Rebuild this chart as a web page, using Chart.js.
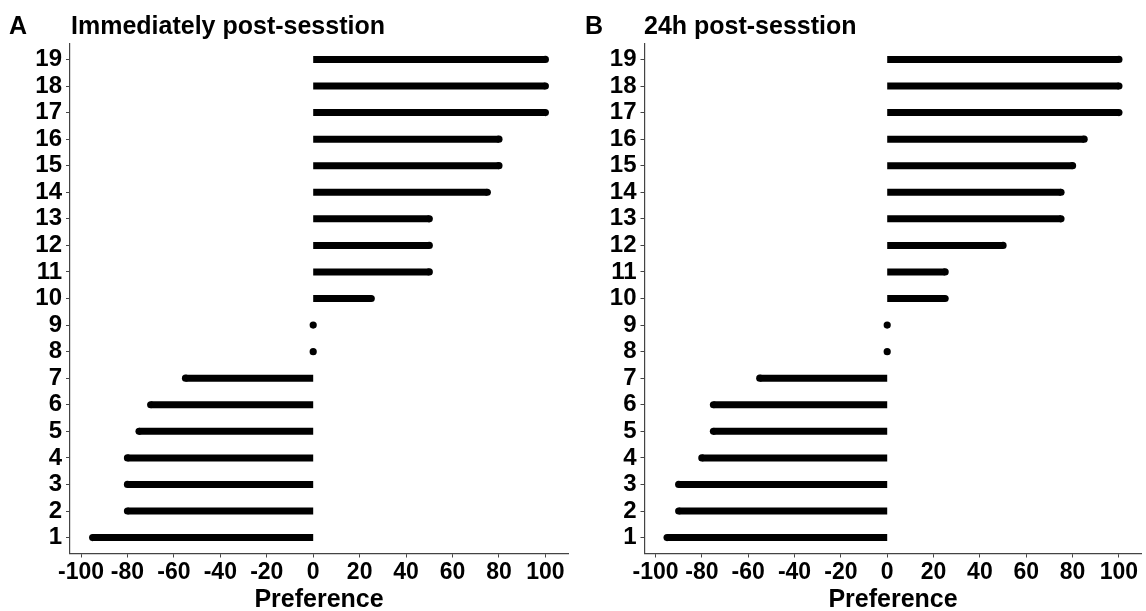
<!DOCTYPE html>
<html>
<head>
<meta charset="utf-8">
<script src="https://cdn.jsdelivr.net/npm/chart.js@4/dist/chart.umd.min.js"></script>
<style>
    body { margin: 0; background: #fff; font-family: 'Liberation Sans', Arial, sans-serif; }
    #wrap { position: relative; width: 1146px; height: 611px; overflow: hidden; }
    .panel { position: absolute; top: 0; width: 573px; height: 611px; }
    .lbl { position: absolute; font-weight: bold; font-size: 25px; line-height: 25px; color: #000; white-space: nowrap; }
</style>
</head>
<body>
<div id="wrap">
    <div class="panel" style="left:0"><canvas id="chartA" width="573" height="611"></canvas></div>
    <div class="panel" style="left:573px"><canvas id="chartB" width="573" height="611"></canvas></div>
    <div class="lbl" style="left:9px;top:13px">A</div>
    <div class="lbl" style="left:71px;top:13px">Immediately post-sesstion</div>
    <div class="lbl" style="left:585px;top:13px">B</div>
    <div class="lbl" style="left:644px;top:13px">24h post-sesstion</div>
</div>
<script>
// participants (y axis) and preference scores (x axis)
const rows = [1, 2, 3, 4, 5, 6, 7, 8, 9, 10, 11, 12, 13, 14, 15, 16, 17, 18, 19];
const prefImmediate = [-95, -80, -80, -80, -75, -70, -55, 0, 0, 25, 50, 50, 50, 75, 80, 80, 100, 100, 100];
const pref24h = [-95, -90, -90, -80, -75, -75, -55, 0, 0, 25, 25, 50, 75, 75, 80, 85, 100, 100, 100];
const xTicks = [-100, -80, -60, -40, -20, 0, 20, 40, 60, 80, 100];

const AXIS = '#444';
const FONT = "'Liberation Sans', Arial, sans-serif";

function buildDatasets(values) {
    // one thick segment per participant, from 0 to its score, round dot at the end
    return rows.map((r, i) => ({
        data: [{ x: 0, y: r }, { x: values[i], y: r }],
        showLine: true,
        borderColor: '#000',
        borderWidth: 7,
        borderCapStyle: 'butt',
        pointRadius: [0, 3.6],
        pointBorderWidth: 0,
        pointBackgroundColor: '#000'
    }));
}

function makeChart(id, values, yWidth, rightPad) {
    const ctx = document.getElementById(id).getContext('2d');
    return new Chart(ctx, {
        type: 'scatter',
        data: { datasets: buildDatasets(values) },
        options: {
            responsive: false,
            animation: false,
            layout: { padding: { top: 43.5, right: rightPad, bottom: 0, left: 0 } },
            plugins: { legend: { display: false }, tooltip: { enabled: false } },
            scales: {
                x: {
                    type: 'linear',
                    min: -104.75,
                    max: 109.75,
                    afterBuildTicks: s => { s.ticks = xTicks.map(v => ({ value: v })); },
                    afterFit: s => { s.height = 57.5; },
                    grid: { drawOnChartArea: false, drawTicks: true, tickLength: 4, color: AXIS, lineWidth: 1 },
                    border: { display: true, color: AXIS, width: 1.2 },
                    ticks: {
                        color: '#000', padding: 1, maxRotation: 0, autoSkip: false,
                        font: { family: FONT, size: 23, weight: 'bold' }
                    },
                    title: {
                        display: true, text: 'Preference', color: '#000', padding: { top: 4, bottom: -4 },
                        font: { family: FONT, size: 25, weight: 'bold' }
                    }
                },
                y: {
                    type: 'linear',
                    min: 0.4,
                    max: 19.6,
                    afterBuildTicks: s => { s.ticks = rows.map(v => ({ value: v })); },
                    afterFit: s => { s.width = yWidth; },
                    grid: { drawOnChartArea: false, drawTicks: true, tickLength: 4, color: AXIS, lineWidth: 1 },
                    border: { display: true, color: AXIS, width: 1.2 },
                    ticks: {
                        color: '#000', padding: 4, autoSkip: false,
                        font: { family: FONT, size: 24, weight: 'bold' }
                    }
                }
            }
        }
    });
}

try {
    makeChart('chartA', prefImmediate, 70, 5);
    makeChart('chartB', pref24h, 71.5, 4.5);
} catch (err) {
    console.error('Chart error:', err);
}
</script>
</body>
</html>
